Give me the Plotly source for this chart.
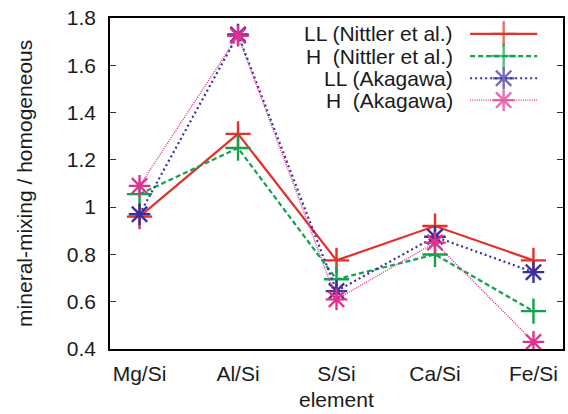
import plotly.graph_objects as go

elements = ["Mg/Si", "Al/Si", "S/Si", "Ca/Si", "Fe/Si"]
ll_nittler = [0.96, 1.31, 0.775, 0.92, 0.775]
h_nittler = [1.055, 1.25, 0.695, 0.80, 0.56]
ll_akagawa = [0.97, 1.73, 0.645, 0.875, 0.725]
h_akagawa = [1.09, 1.725, 0.61, 0.85, 0.43]
series_names = ["LL (Nittler et al.)", "H  (Nittler et al.)", "LL (Akagawa)", "H  (Akagawa)"]
y_ticks = [0.4, 0.6, 0.8, 1.0, 1.2, 1.4, 1.6, 1.8]
y_tick_text = ["0.4", "0.6", "0.8", "1", "1.2", "1.4", "1.6", "1.8"]

series = [ll_nittler, h_nittler, ll_akagawa, h_akagawa]
colors = ["#e3302b", "#12a34a", "#3b2f9e", "#e0328c"]
dashes = ["solid", "5px,3px", "2px,3px", "1px,1.2px"]
widths = [2.2, 2.2, 2.2, 1.4]
symbols = ["cross-thin-open", "cross-thin-open", "asterisk-open", "asterisk-open"]
msizes = [18, 18, 18, 18]

FONT = "Liberation Sans, Arial, sans-serif"
FS = 21
fig = go.Figure()
xs = list(range(len(elements)))
for vals, c, d, w, s, ms, nm in zip(series, colors, dashes, widths, symbols, msizes, series_names):
    fig.add_trace(go.Scatter(
        x=xs, y=vals, mode="lines+markers", name=nm,
        line=dict(color=c, dash=d, width=w),
        marker=dict(symbol=s, size=ms, color=c, line=dict(color=c, width=2.4)),
        showlegend=False))

# custom legend (text left, sample right) on overlay axes in paper-like units
rows = [0.952, 0.885, 0.818, 0.752]
for r, c, d, w, s, ms, nm in zip(rows, colors, dashes, widths, symbols, msizes, series_names):
    fig.add_trace(go.Scatter(
        x=[0.795, 0.869, 0.943], y=[r, r, r], mode="lines+markers",
        xaxis="x2", yaxis="y2", showlegend=False, hoverinfo="skip",
        line=dict(color=c, dash=d, width=w),
        marker=dict(symbol=s, size=[0, ms, 0], color=c, line=dict(color=c, width=2.4))))
    fig.add_annotation(x=0.762, y=r, xref="x2", yref="y2", text=nm, showarrow=False,
                       xanchor="right", yanchor="middle", font=dict(size=FS, color="#1a1a1a", family=FONT))

fig.add_annotation(x=-0.189, y=0.5, xref="paper", yref="paper", text="mineral-mixing / homogeneous",
                   textangle=-90, showarrow=False, xanchor="center", yanchor="middle",
                   font=dict(size=FS, color="#1a1a1a", family=FONT))
fig.add_annotation(x=0.5, y=-0.154, xref="paper", yref="paper", text="element",
                   showarrow=False, xanchor="center", yanchor="middle",
                   font=dict(size=FS, color="#1a1a1a", family=FONT))

fig.update_layout(
    width=568, height=414,
    margin=dict(l=110, r=3, t=18, b=65),
    paper_bgcolor="white", plot_bgcolor="white",
    font=dict(family=FONT, size=FS, color="#1a1a1a"),
    xaxis=dict(tickmode="array", tickvals=xs, ticktext=elements, range=[-0.3, 4.3],
               showline=True, linecolor="black", linewidth=1.5, mirror=True,
               ticks="", showgrid=False, zeroline=False, ticklabelstandoff=5),
    yaxis=dict(range=[0.4, 1.8], tickvals=y_ticks, ticktext=y_tick_text,
               showline=True, linecolor="black", linewidth=1.5, mirror="ticks",
               ticks="inside", ticklen=6, tickwidth=1.2, tickcolor="#333",
               showgrid=False, zeroline=False, ticklabelstandoff=8),
    xaxis2=dict(overlaying="x", range=[0, 1], visible=False, anchor="y2"),
    yaxis2=dict(overlaying="y", range=[0, 1], visible=False, anchor="x2"),
)

fig.write_html("out.html")
